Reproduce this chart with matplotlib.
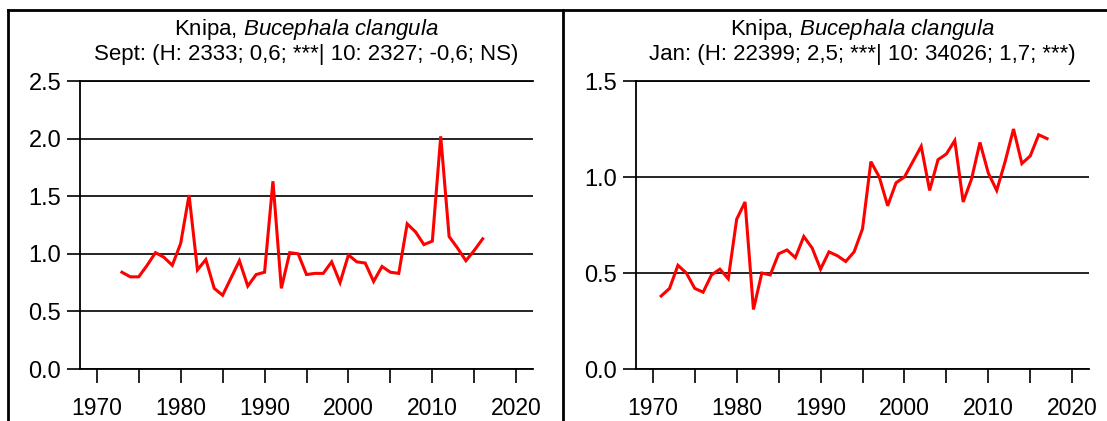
import matplotlib
matplotlib.use("Agg")
import matplotlib.pyplot as plt
from matplotlib.lines import Line2D
import numpy as np

plt.rcParams['font.family'] = ['Liberation Sans', 'DejaVu Sans']
plt.rcParams['mathtext.fontset'] = 'custom'
plt.rcParams['mathtext.rm'] = 'Liberation Sans'
plt.rcParams['mathtext.it'] = 'Liberation Sans:italic'

# ---- data ----
sept_years = list(range(1973, 2017))
sept_values = [0.84, 0.80, 0.80, 0.90, 1.01, 0.97, 0.90, 1.09, 1.51, 0.86,
               0.95, 0.70, 0.64, 0.79, 0.94, 0.72, 0.82, 0.84, 1.63, 0.70,
               1.01, 1.00, 0.82, 0.83, 0.83, 0.93, 0.75, 0.99, 0.93, 0.92,
               0.76, 0.89, 0.84, 0.83, 1.26, 1.19, 1.08, 1.11, 2.02, 1.15,
               1.05, 0.94, 1.03, 1.13]

jan_years = list(range(1971, 2018))
jan_values = [0.38, 0.42, 0.54, 0.50, 0.42, 0.40, 0.49, 0.52, 0.47, 0.78,
              0.87, 0.31, 0.50, 0.49, 0.60, 0.62, 0.58, 0.69, 0.63, 0.52,
              0.61, 0.59, 0.56, 0.61, 0.73, 1.08, 1.00, 0.85, 0.97, 1.00,
              1.08, 1.16, 0.93, 1.09, 1.12, 1.19, 0.87, 0.99, 1.18, 1.02,
              0.93, 1.08, 1.25, 1.07, 1.11, 1.22, 1.20]

title_line1 = r"Knipa, $\mathit{Bucephala\ clangula}$"
sept_title2 = "Sept: (H: 2333; 0,6; ***| 10: 2327; -0,6; NS)"
jan_title2 = "Jan: (H: 22399; 2,5; ***| 10: 34026; 1,7; ***)"

xticks = list(range(1970, 2021, 5))
xticklabels = [str(y) if y % 10 == 0 else "" for y in xticks]
sept_yticks = [0.0, 0.5, 1.0, 1.5, 2.0, 2.5]
jan_yticks = [0.0, 0.5, 1.0, 1.5]

W, H = 1107, 421
fig = plt.figure(figsize=(W / 100, H / 100), dpi=100)

def px_axes(x0, x1, ytop, ybot):
    return fig.add_axes([x0 / W, (H - ybot) / H, (x1 - x0) / W, (ybot - ytop) / H])

ax1 = px_axes(80, 533, 81, 369)
ax2 = px_axes(636, 1089, 81, 369)

def style(ax, years, values, yticks, title2):
    ax.plot(years, values, color='#ff0000', lw=2.2, solid_joinstyle='miter')
    ax.set_xlim(1968, 2022)
    ax.set_ylim(yticks[0], yticks[-1])
    ax.set_yticks(yticks)
    ax.set_yticklabels([f"{v:.1f}" for v in yticks])
    ax.set_xticks(xticks)
    ax.set_xticklabels(xticklabels)
    ax.spines['right'].set_visible(False)
    for s in ['left', 'top', 'bottom']:
        ax.spines[s].set_linewidth(1.3)
        ax.spines[s].set_color('black')
    ax.grid(axis='y', color='black', lw=1.2)
    ax.set_axisbelow(True)
    ax.tick_params(axis='y', direction='out', length=9.5, width=1.2, pad=4,
                   labelsize=17)
    ax.tick_params(axis='x', direction='out', length=10, width=1.2, pad=10,
                   labelsize=16.5)
    ax.text(0.5, 1.0 + 46 / 288, title_line1, transform=ax.transAxes,
            ha='center', va='baseline', fontsize=16)
    ax.text(0.5, 1.0 + 21 / 288, title2, transform=ax.transAxes,
            ha='center', va='baseline', fontsize=16)

style(ax1, sept_years, sept_values, sept_yticks, sept_title2)
style(ax2, jan_years, jan_values, jan_yticks, jan_title2)

# frame lines
y_top = 1 - 10 / H
fig.add_artist(Line2D([8 / W, 1.0], [y_top, y_top], color='black', lw=2.0))
fig.add_artist(Line2D([8 / W, 8 / W], [0, y_top], color='black', lw=2.0))
fig.add_artist(Line2D([563 / W, 563 / W], [0, y_top], color='black', lw=2.0))

fig.savefig("out.png", dpi=100)
